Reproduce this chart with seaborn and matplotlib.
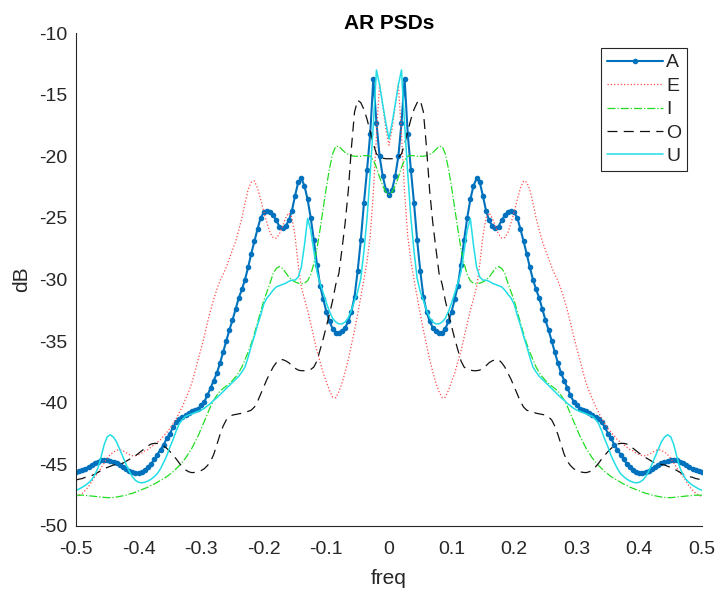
import numpy as np
import pandas as pd
import matplotlib
matplotlib.use('Agg')
import matplotlib.pyplot as plt
import seaborn as sns

# positive-frequency half of each AR spectrum (dB), step 0.005 from 0 to 0.5
# the spectra are symmetric, the negative half is mirrored below
freq_step = 0.005

psd_A = [-23.15, -22.7, -21.6, -20.0, -17.3, -13.7, -18.2, -21.1, -23.8, -26.8,
         -29.3, -31.4, -32.6, -33.4, -33.9, -34.15, -34.3, -34.3, -34.0, -33.4,
         -32.6, -31.6, -30.5, -28.8, -26.8, -25.0, -23.5, -22.4, -21.8, -22.1,
         -23.2, -24.4, -25.2, -25.65, -25.8, -25.7, -25.2, -24.8, -24.5, -24.4,
         -24.55, -25.0, -25.9, -26.9, -27.9, -29.0, -30.0, -30.8, -31.5, -32.4,
         -33.3, -34.1, -35.0, -35.9, -36.8, -37.6, -38.2, -38.8, -39.4, -39.9,
         -40.2, -40.5, -40.6, -40.7, -40.85, -41.0, -41.15, -41.3, -41.6, -42.0,
         -42.5, -42.9, -43.4, -43.8, -44.2, -44.6, -44.95, -45.25, -45.45, -45.6,
         -45.7, -45.7, -45.6, -45.5, -45.35, -45.2, -45.05, -44.9, -44.8, -44.7,
         -44.65, -44.62, -44.67, -44.8, -44.9, -45.05, -45.2, -45.35, -45.45, -45.55,
         -45.6]

psd_E = [-19.1, -17.8, -15.9, -14.1, -18.3, -23.0, -26.5, -28.5, -30.0, -31.4,
         -32.8, -34.1, -35.3, -36.5, -37.5, -38.4, -39.1, -39.6, -39.55, -39.0,
         -38.3, -37.6, -36.7, -35.8, -34.7, -33.6, -32.5, -31.6, -30.6, -28.8,
         -26.5, -25.0, -24.6, -25.0, -25.7, -26.3, -26.65, -26.6, -26.2, -25.4,
         -24.5, -23.5, -22.6, -22.0, -22.1, -22.7, -23.8, -25.0, -26.0, -26.9,
         -27.6, -28.3, -29.0, -29.6, -30.1, -30.8, -31.6, -32.5, -33.5, -34.6,
         -35.6, -36.5, -37.5, -38.4, -39.1, -39.7, -40.3, -40.8, -41.3, -41.7,
         -42.1, -42.4, -42.7, -43.0, -43.2, -43.4, -43.6, -43.8, -43.9, -44.1,
         -44.2, -44.3, -44.3, -44.2, -44.05, -43.9, -43.8, -43.85, -44.0, -44.2,
         -44.5, -44.9, -45.3, -45.7, -46.0, -46.4, -46.8, -47.1, -47.35, -47.5,
         -47.6]

psd_I = [-23.1, -22.9, -22.4, -21.7, -20.9, -20.3, -20.0, -19.95, -19.95, -20.0,
         -20.0, -20.0, -19.95, -19.85, -19.7, -19.45, -19.2, -19.2, -19.8, -21.0,
         -22.5, -24.2, -25.9, -27.5, -28.7, -29.6, -30.1, -30.3, -30.35, -30.3,
         -30.2, -30.05, -29.8, -29.45, -29.1, -28.95, -29.1, -29.5, -30.3, -31.0,
         -31.7, -32.6, -33.5, -34.4, -35.2, -35.9, -36.5, -37.1, -37.55, -37.9,
         -38.2, -38.45, -38.65, -38.85, -39.05, -39.4, -39.8, -40.3, -40.9, -41.5,
         -42.1, -42.7, -43.2, -43.7, -44.1, -44.5, -44.8, -45.1, -45.35, -45.6,
         -45.8, -46.0, -46.15, -46.3, -46.45, -46.6, -46.7, -46.85, -46.95, -47.05,
         -47.15, -47.25, -47.35, -47.4, -47.5, -47.55, -47.6, -47.65, -47.68, -47.7,
         -47.7, -47.68, -47.65, -47.62, -47.6, -47.57, -47.55, -47.52, -47.5, -47.5,
         -47.5]

psd_O = [-20.2, -20.2, -20.15, -20.1, -19.8, -19.0, -18.0, -17.0, -16.2, -15.65,
         -15.45, -16.4, -19.3, -22.8, -25.4, -27.5, -29.5, -30.4, -31.7, -32.8,
         -33.8, -34.8, -35.7, -36.6, -37.1, -37.3, -37.35, -37.4, -37.4, -37.35,
         -37.2, -37.0, -36.75, -36.6, -36.5, -36.5, -36.75, -37.1, -37.6, -38.1,
         -38.7, -39.3, -39.9, -40.35, -40.6, -40.7, -40.75, -40.85, -40.9, -40.95,
         -41.0, -41.15, -41.4, -41.9, -42.6, -43.4, -44.2, -44.75, -45.1, -45.35,
         -45.5, -45.6, -45.65, -45.67, -45.6, -45.45, -45.2, -44.9, -44.55, -44.25,
         -43.95, -43.7, -43.5, -43.35, -43.3, -43.3, -43.35, -43.5, -43.7, -43.9,
         -44.1, -44.3, -44.45, -44.6, -44.75, -44.9, -44.95, -45.0, -45.05, -45.15,
         -45.25, -45.35, -45.5, -45.65, -45.8, -45.9, -46.0, -46.05, -46.15, -46.2,
         -46.27]

psd_U = [-18.6, -17.3, -15.8, -14.2, -13.0, -17.4, -21.4, -25.0, -27.7, -29.9,
         -31.0, -31.7, -32.5, -33.1, -33.45, -33.6, -33.6, -33.45, -33.15, -32.6,
         -31.9, -31.1, -30.3, -29.4, -27.7, -26.0, -25.05, -27.2, -29.0, -29.8,
         -30.05, -30.05, -30.15, -30.3, -30.4, -30.5, -30.6, -30.85, -31.2, -31.5,
         -32.0, -32.9, -33.7, -34.6, -35.4, -36.3, -37.1, -37.5, -37.85, -38.1,
         -38.35, -38.6, -38.85, -39.1, -39.35, -39.6, -39.8, -40.05, -40.25, -40.45,
         -40.6, -40.7, -40.8, -40.9, -41.0, -41.1, -41.35, -41.7, -42.3, -43.0,
         -43.6, -44.3, -44.85, -45.35, -45.75, -46.0, -46.2, -46.35, -46.45, -46.5,
         -46.45, -46.3, -46.0, -45.55, -45.0, -44.4, -43.8, -43.2, -42.8, -42.6,
         -42.75, -43.4, -44.4, -45.3, -45.85, -46.25, -46.5, -46.7, -46.85, -47.0,
         -47.1]

xticks = [-0.5, -0.4, -0.3, -0.2, -0.1, 0, 0.1, 0.2, 0.3, 0.4, 0.5]
xtick_labels = ['-0.5', '-0.4', '-0.3', '-0.2', '-0.1', '0', '0.1', '0.2', '0.3', '0.4', '0.5']
yticks = [-50, -45, -40, -35, -30, -25, -20, -15, -10]
ytick_labels = ['-50', '-45', '-40', '-35', '-30', '-25', '-20', '-15', '-10']

# mirror the half spectra to the full -0.5..0.5 range
half_f = np.arange(len(psd_A)) * freq_step
freq = np.concatenate([-half_f[::-1], half_f[1:]])


def full(v):
    v = np.asarray(v)
    return np.concatenate([v[::-1], v[1:]])


sns.set_style('white')
plt.rcParams['font.family'] = ['Liberation Sans', 'DejaVu Sans']
plt.rcParams['axes.unicode_minus'] = False
axis_col = '#262626'

fig = plt.figure(figsize=(7.17, 5.90), dpi=100)
ax = fig.add_axes([0.106, 0.1085, 0.873, 0.8355])

sns.lineplot(x=freq, y=full(psd_A), ax=ax, color='#0072BD', lw=1.5,
             marker='.', markersize=8, markeredgewidth=0, label='A')
sns.lineplot(x=freq, y=full(psd_E), ax=ax, color='#ff4a4a', lw=0.9,
             linestyle=':', label='E')
sns.lineplot(x=freq, y=full(psd_I), ax=ax, color='#22dd22', lw=0.9,
             linestyle='-.', label='I')
sns.lineplot(x=freq, y=full(psd_O), ax=ax, color='#111111', lw=0.9,
             linestyle=(0, (8, 5)), label='O')
sns.lineplot(x=freq, y=full(psd_U), ax=ax, color='#22dde6', lw=1.1,
             label='U')

ax.set_xlim(-0.5, 0.5)
ax.set_ylim(-50, -10)
ax.set_xticks(xticks)
ax.set_xticklabels(xtick_labels)
ax.set_yticks(yticks)
ax.set_yticklabels(ytick_labels)
ax.tick_params(direction='in', length=5, width=0.8, colors=axis_col,
               labelsize=14)
ax.tick_params(axis='x', pad=11)
ax.tick_params(axis='y', pad=6)
for s in ['top', 'right']:
    ax.spines[s].set_visible(False)
for s in ['left', 'bottom']:
    ax.spines[s].set_color(axis_col)
    ax.spines[s].set_linewidth(0.8)

ax.set_title('AR PSDs', fontsize=15, fontweight='bold', color='black', pad=3)
ax.set_xlabel('freq', fontsize=15, color=axis_col, labelpad=8)
ax.set_ylabel('dB', fontsize=15, color=axis_col, labelpad=6)

leg = ax.legend(loc='upper left', bbox_to_anchor=(0.8387, 0.9696),
                fontsize=14, numpoints=1, handlelength=2.9, handletextpad=0.15,
                labelspacing=0.3, borderpad=0.3, borderaxespad=0,
                fancybox=False, framealpha=1, edgecolor=axis_col)
leg.get_frame().set_linewidth(0.8)

plt.savefig('out.png', dpi=100)
plt.close()
